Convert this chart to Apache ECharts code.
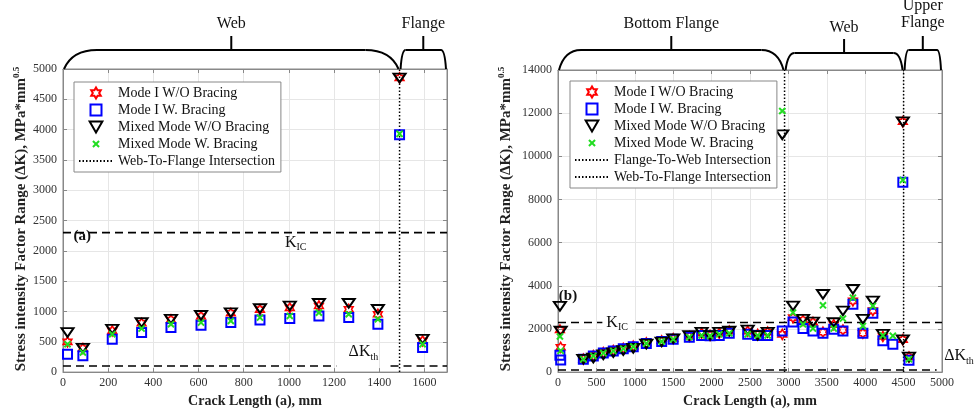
<!DOCTYPE html>
<html><head><meta charset="utf-8">
<script src="https://cdn.jsdelivr.net/npm/echarts@6/dist/echarts.min.js"></script>
<style>html,body{margin:0;padding:0;background:#fff}#c{width:974px;height:413px}</style>
</head><body><div id="c"></div>
<script>
// ---------- DATA ----------
const seriesNames = ['Mode I W/O Bracing', 'Mode I W. Bracing', 'Mixed Mode W/O Bracing', 'Mixed Mode W. Bracing'];
// chart (a)
const aX       = [20, 88, 218, 348, 478, 611, 743, 872, 1004, 1133, 1265, 1394, 1490, 1592];
const aModeIWO = [499, 389, 680, 805, 860, 917, 970, 1030, 1060, 1091, 1036, 954, 4852, 515];
const aModeIW  = [296, 269, 543, 653, 735, 773, 817, 860, 883, 926, 899, 789, 3914, 406];
const aMixedWO = [653, 395, 707, 817, 872, 937, 981, 1048, 1091, 1134, 1134, 1036, 4852, 543];
const aMixedW  = [460, 324, 625, 718, 789, 817, 844, 899, 926, 981, 954, 872, 3930, 460];
const aIntersections = [1490];
// chart (b)
const bX       = [25, 35, 330, 460, 590, 720, 850, 980, 1150, 1350, 1500, 1710, 1870, 1980, 2100, 2230, 2470, 2600, 2730, 2920, 3060, 3190, 3320, 3450, 3590, 3710, 3840, 3970, 4100, 4230, 4360, 4490, 4490, 4570];
const bModeIWO = [1950, 1150, 600, 760, 900, 1000, 1100, 1200, 1350, 1450, 1550, 1650, 1800, 1700, 1800, 1900, 1900, 1750, 1850, 1750, 2526, 2400, 2300, 1850, 2200, 1950, 3300, 1800, 2850, 1650, null, 1500, 11600, 700];
const bModeIW  = [785, 555, 600, 750, 880, 980, 1080, 1180, 1330, 1420, 1520, 1620, 1700, 1680, 1700, 1800, 1750, 1700, 1700, 1900, 2326, 2018, 1910, 1802, 1987, 1910, 3142, 1802, 2726, 1448, 1294, null, 8800, 550];
const bMixedWO = [3050, 1900, 600, 650, 800, 900, 1000, 1100, 1300, 1400, 1550, 1700, 1850, 1700, 1850, 1900, 1950, 1700, 1850, 11000, 3065, 2450, 2326, 3604, 2296, 2834, 3835, 2450, 3296, 1756, null, 1500, 11600, 700];
const bMixedW  = [1650, 985, 600, 750, 880, 980, 1080, 1180, 1330, 1420, 1520, 1620, 1700, 1680, 1750, 1800, 1750, 1700, 1700, 12100, 2757, 2218, 2018, 3096, 2018, 2480, 3450, 2140, 3065, 1700, 1680, null, 8900, 600];
const bFlangeToWeb = 2950;
const bWebToFlange = 4500;
const KIC = 2300;
const dKth = 100;
const aRegions = [{name: 'Web', from: 0, to: 1490}, {name: 'Flange', from: 1490, to: 1700}];
const bRegions = [{name: 'Bottom Flange', from: 0, to: 2950}, {name: 'Web', from: 2950, to: 4500}, {name: 'Upper\nFlange', from: 4500, to: 5000}];

// ---------- STYLE ----------
const SERIF = 'Liberation Serif';
const SYM_STAR = 'path://M0,-10L2.89,-5L8.66,-5L5.77,0L8.66,5L2.89,5L0,10L-2.89,5L-8.66,5L-5.77,0L-8.66,-5L-2.89,-5Z';
const SYM_SQ = 'path://M0,0L10,0L10,10L0,10Z';
const SYM_TRI = 'path://M0,0L10,0L5,8.66Z';
const SYM_X = 'path://M-4,-4M14,14M0,0L10,10M10,0L0,10';
const markerDefs = [
  {symbol: SYM_STAR, size: 10, color: '#ff0000', bw: 1.6},
  {symbol: SYM_SQ, size: 9, color: '#0000ff', bw: 2},
  {symbol: SYM_TRI, size: [12, 10], color: '#000000', bw: 2},
  {symbol: SYM_X, size: 11, color: '#22dd22', bw: 2}
];
const pairs = (xs, ys) => xs.map((x, i) => ys[i] == null ? null : [x, ys[i]]).filter(Boolean);

function scatter(name, gi, xs, ys, k) {
  const m = markerDefs[k];
  return {
    type: 'scatter', name, xAxisIndex: gi, yAxisIndex: gi,
    data: pairs(xs, ys), symbol: m.symbol, symbolSize: m.size, symbolKeepAspect: true,
    itemStyle: {color: 'rgba(0,0,0,0)', borderColor: m.color, borderWidth: m.bw, opacity: 1},
    emphasis: {disabled: true}, z: 5 + k, animation: false
  };
}
function vline(name, gi, x, ymax) {
  return {type: 'line', name, xAxisIndex: gi, yAxisIndex: gi, data: [[x, 0], [x, ymax]],
    symbol: 'circle', showSymbol: false, symbolSize: 0,
    lineStyle: {color: '#000', width: 1.5, type: [1.5, 2]},
    itemStyle: {color: 'rgba(0,0,0,0)', borderWidth: 0},
    z: 3, animation: false, silent: true};
}
function hline(gi, x0, x1, y) {
  return {type: 'line', xAxisIndex: gi, yAxisIndex: gi, data: [[x0, y], [x1, y]],
    symbol: 'none', lineStyle: {color: '#000', width: 1.6, type: [8, 5]}, z: 2, animation: false, silent: true};
}
const numFmt = v => String(v);
function xAxisOpt(gi, min, max, interval) {
  return {type: 'value', gridIndex: gi, min, max, interval,
    name: 'Crack Length (a), mm', nameLocation: 'middle', nameGap: 18,
    nameTextStyle: {fontFamily: SERIF, fontWeight: 'bold', fontSize: 14, color: '#222'},
    axisLine: {show: true, onZero: false, lineStyle: {color: '#888'}},
    axisTick: {show: true, inside: true, length: 4, lineStyle: {color: '#888'}},
    axisLabel: {color: '#333', fontFamily: SERIF, fontSize: 12, margin: 5, formatter: numFmt},
    splitLine: {show: true, lineStyle: {color: '#e6e6e6'}}};
}
function yAxisOpt(gi, min, max, interval) {
  return {type: 'value', gridIndex: gi, min, max, interval,
    axisLine: {show: true, onZero: false, lineStyle: {color: '#888'}},
    axisTick: {show: true, inside: true, length: 4, lineStyle: {color: '#888'}},
    axisLabel: {color: '#333', fontFamily: SERIF, fontSize: 12, margin: 6, formatter: numFmt},
    splitLine: {show: true, lineStyle: {color: '#e6e6e6'}}};
}
function boxAxisX(gi, min, max, interval) {
  return {type: 'value', gridIndex: gi, min, max, interval, position: 'top',
    axisLine: {show: true, onZero: false, lineStyle: {color: '#888'}},
    axisTick: {show: true, inside: true, length: 4, lineStyle: {color: '#888'}},
    axisLabel: {show: false}, splitLine: {show: false}};
}
function boxAxisY(gi, min, max, interval) {
  return {type: 'value', gridIndex: gi, min, max, interval, position: 'right',
    axisLine: {show: true, onZero: false, lineStyle: {color: '#888'}},
    axisTick: {show: true, inside: true, length: 4, lineStyle: {color: '#888'}},
    axisLabel: {show: false}, splitLine: {show: false}};
}
const legendBase = {orient: 'vertical', itemWidth: 34, itemHeight: 11, itemGap: 3,
  padding: [4, 6, 4, 4], borderColor: '#888', borderWidth: 1, backgroundColor: '#fff',
  textStyle: {fontFamily: SERIF, fontSize: 14, color: '#111', lineHeight: 14}, selectedMode: false, z: 20};

const chart = echarts.init(document.getElementById('c'), null, {renderer: 'canvas'});
const aSeries = [aModeIWO, aModeIW, aMixedWO, aMixedW];
const bSeries = [bModeIWO, bModeIW, bMixedWO, bMixedW];
const series = [];
series.push(hline(0, 0, 1700, KIC));
series.push(hline(0, 0, 1210, dKth));
series.push(hline(0, 1450, 1700, dKth));
series.push(hline(1, 0, 5000, KIC));
series.push(hline(1, 0, 4930, dKth));
aIntersections.forEach(x => series.push(vline('Web-To-Flange Intersection', 0, x, 5000)));
series.push(vline('Flange-To-Web Intersection', 1, bFlangeToWeb, 14000));
series.push(vline('Web-To-Flange Intersection', 1, bWebToFlange, 14000));
seriesNames.forEach((n, k) => series.push(scatter(n, 0, aX, aSeries[k], k)));
seriesNames.forEach((n, k) => series.push(scatter(n, 1, bX, bSeries[k], k)));

chart.setOption({
  animation: false,
  backgroundColor: '#fff',
  grid: [
    {left: 63, top: 69, width: 384, height: 304, show: true, borderColor: '#888', borderWidth: 1},
    {left: 558, top: 70, width: 384, height: 303, show: true, borderColor: '#888', borderWidth: 1}
  ],
  xAxis: [xAxisOpt(0, 0, 1700, 200), xAxisOpt(1, 0, 5000, 500), boxAxisX(0, 0, 1700, 200), boxAxisX(1, 0, 5000, 500)],
  yAxis: [yAxisOpt(0, 0, 5000, 500), yAxisOpt(1, 0, 14000, 2000), boxAxisY(0, 0, 5000, 500), boxAxisY(1, 0, 14000, 2000)],
  legend: [
    Object.assign({}, legendBase, {left: 74, top: 82, data: seriesNames.concat(['Web-To-Flange Intersection'])}),
    Object.assign({}, legendBase, {left: 570, top: 81, data: seriesNames.concat(['Flange-To-Web Intersection', 'Web-To-Flange Intersection'])})
  ],
  series
});

// ---------- ANNOTATIONS ----------
const px = (gi, x, y) => chart.convertToPixel({gridIndex: gi}, [x, y]);
const g = [];
const lineStyle = {stroke: '#000', lineWidth: 2, fill: null};
function brace(gi, reg, ymax, topOff, r, tickLen, textOff) {
  const p0 = px(gi, reg.from, ymax), p1 = px(gi, reg.to, ymax);
  const x0 = p0[0] + 1, x1 = p1[0] - 1, yb = p0[1], yt = yb - topOff;
  g.push({type: 'bezierCurve', shape: {x1: x0, y1: yb, x2: x0 + r, y2: yt, cpx1: x0 + 0.25 * r, cpy1: yt}, style: lineStyle, z: 10});
  g.push({type: 'line', shape: {x1: x0 + r, y1: yt, x2: x1 - r, y2: yt}, style: lineStyle, z: 10});
  g.push({type: 'bezierCurve', shape: {x1: x1 - r, y1: yt, x2: x1, y2: yb, cpx1: x1 - 0.25 * r, cpy1: yt}, style: lineStyle, z: 10});
  const xc = (x0 + x1) / 2;
  g.push({type: 'line', shape: {x1: xc, y1: yt, x2: xc, y2: yt - tickLen}, style: lineStyle, z: 10});
  g.push({type: 'text', x: xc, y: yt - tickLen - textOff, z: 10,
    style: {text: reg.name, fill: '#111', fontFamily: SERIF, fontSize: 16, lineHeight: 17,
      align: 'center', verticalAlign: 'bottom', textAlign: 'center', textVerticalAlign: 'bottom'}});
}
brace(0, aRegions[0], 5000, 19, 33, 14, 4);
brace(0, aRegions[1], 5000, 19, 5, 14, 4);
brace(1, bRegions[0], 14000, 20, 22, 14, 4);
brace(1, bRegions[1], 14000, 17, 9, 14, 3);
brace(1, bRegions[2], 14000, 20, 4, 14, 5);

function richText(x, y, main, sub, opts) {
  return {type: 'text', x, y, z: 12,
    style: {text: '{k|' + main + '}{s|' + sub + '}', fill: '#111', align: 'center', verticalAlign: 'middle',
      textAlign: 'center', textVerticalAlign: 'middle', backgroundColor: opts.bg || null, padding: opts.pad || 0,
      rich: {k: {fontFamily: SERIF, fontSize: 16, lineHeight: 20, fill: '#111'},
             s: {fontFamily: SERIF, fontSize: 10, lineHeight: 9, verticalAlign: 'bottom', fill: '#111'}}}};
}
let p;
p = px(0, 1030, KIC); g.push(richText(p[0], p[1] + 10, 'K', 'IC', {}));
p = px(0, 1330, dKth); g.push(richText(p[0], p[1] - 14, 'ΔK', 'th', {}));
p = px(1, 770, KIC); g.push(richText(p[0], p[1], 'K', 'IC', {bg: '#fff', pad: [0, 4]}));
p = px(1, 5000, dKth); g.push(richText(p[0] + 17, p[1] - 14, 'ΔK', 'th', {}));

// panel labels
p = px(0, 85, 2000); g.push({type: 'text', x: p[0], y: p[1] - 15, z: 12,
  style: {text: '(a)', fontFamily: SERIF, fontWeight: 'bold', fontSize: 15, fill: '#111', align: 'center', verticalAlign: 'middle', textAlign: 'center', textVerticalAlign: 'middle'}});
p = px(1, 130, 3500); g.push({type: 'text', x: p[0], y: p[1], z: 12,
  style: {text: '(b)', fontFamily: SERIF, fontWeight: 'bold', fontSize: 15, fill: '#111', align: 'center', verticalAlign: 'middle', textAlign: 'center', textVerticalAlign: 'middle'}});

// y-axis titles
function yTitle(x, y) {
  return {type: 'text', x, y, rotation: Math.PI / 2, z: 12,
    style: {text: '{m|Stress intensity Factor Range (ΔK), MPa*mm}{s|0.5}', align: 'center', verticalAlign: 'middle',
      textAlign: 'center', textVerticalAlign: 'middle', fill: '#222',
      rich: {m: {fontFamily: SERIF, fontWeight: 'bold', fontSize: 15, lineHeight: 18, fill: '#222'},
             s: {fontFamily: SERIF, fontWeight: 'bold', fontSize: 9, lineHeight: 9, verticalAlign: 'top', fill: '#222'}}}};
}
g.push(yTitle(21, 219));
g.push(yTitle(506, 219));

chart.setOption({graphic: {elements: g}});
</script>
</body></html>
